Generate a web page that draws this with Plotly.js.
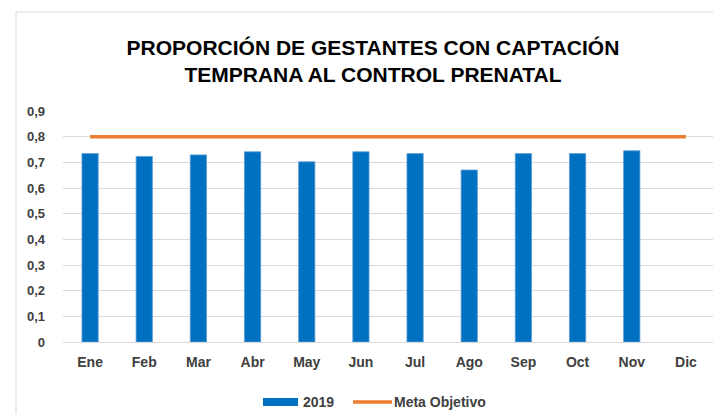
<!DOCTYPE html>
<html>
<head>
<meta charset="utf-8">
<script src="https://cdn.plot.ly/plotly-3.0.1.min.js"></script>
<style>html,body{margin:0;padding:0;background:#fff;}#chart{width:713px;height:414px;}</style>
</head>
<body>
<div id="chart"></div>
<script>
const months = ["Ene","Feb","Mar","Abr","May","Jun","Jul","Ago","Sep","Oct","Nov","Dic"];
const values2019 = [0.734,0.723,0.729,0.741,0.702,0.741,0.734,0.670,0.734,0.734,0.745,null];
const meta = [0.8,0.8,0.8,0.8,0.8,0.8,0.8,0.8,0.8,0.8,0.8,0.8];
const yTicks = [0,0.1,0.2,0.3,0.4,0.5,0.6,0.7,0.8,0.9];
const yTickText = ["0","0,1","0,2","0,3","0,4","0,5","0,6","0,7","0,8","0,9"];
const seriesNames = ["2019","Meta Objetivo"];
const colors = ["#0070C0","#ED7D31"];

const FONT = "'Liberation Sans', Arial, sans-serif";

const traces = [
  {type:"bar", x:months, y:values2019, name:seriesNames[0],
   marker:{color:colors[0], line:{color:"#5B9BD5", width:0.8}}, width:0.3, showlegend:false},
  {type:"scatter", mode:"lines", x:months, y:meta, name:seriesNames[1],
   line:{color:colors[1], width:3.5}, showlegend:false}
];

// paper coordinate helpers (plot area: x 63..713, y 111..342)
const px = v => (v-63)/650;
const py = v => (342-v)/231;

const layout = {
  width:713, height:414,
  margin:{l:63, r:0, t:111, b:72},
  paper_bgcolor:"#fff", plot_bgcolor:"#fff",
  font:{family:FONT, color:"#404040"},
  title:{text:"<b>PROPORCIÓN DE GESTANTES CON CAPTACIÓN<br>TEMPRANA AL CONTROL PRENATAL</b>",
         font:{family:FONT, size:21, color:"#000"}, x:373/713, xref:"container", xanchor:"center",
         y:1-55/414, yref:"container", yanchor:"middle"},
  xaxis:{type:"category", categoryorder:"array", categoryarray:months, showgrid:false, zeroline:false,
         showline:false, ticks:"", ticklabelstandoff:10,
         tickfont:{family:FONT, size:14, color:"#404040", weight:"bold"}},
  yaxis:{range:[0,0.9], tickvals:yTicks, ticktext:yTickText, showgrid:true, gridcolor:"#D9D9D9",
         gridwidth:1, zeroline:true, zerolinecolor:"#D9D9D9", zerolinewidth:1, showline:false, ticks:"",
         ticklabelstandoff:17, tickfont:{family:FONT, size:13, color:"#404040", weight:"bold"}},
  showlegend:false,
  bargap:0.7,
  shapes:[
    {type:"line", xref:"paper", yref:"paper", x0:px(16), x1:1.1, y0:py(12), y1:py(12),
     line:{color:"#D9D9D9", width:1}},
    {type:"line", xref:"paper", yref:"paper", x0:px(16), x1:px(16), y0:py(12), y1:py(430),
     line:{color:"#D9D9D9", width:1}},
    // legend swatches
    {type:"rect", xref:"paper", yref:"paper", x0:px(263), x1:px(298), y0:py(398), y1:py(406),
     fillcolor:colors[0], line:{width:0}},
    {type:"line", xref:"paper", yref:"paper", x0:px(353), x1:px(392), y0:py(402), y1:py(402),
     line:{color:colors[1], width:3.5}}
  ],
  annotations:[
    {xref:"paper", yref:"paper", x:px(301), y:py(402), xanchor:"left", yanchor:"middle", showarrow:false,
     text:seriesNames[0], font:{family:FONT, size:14, color:"#404040", weight:"bold"}},
    {xref:"paper", yref:"paper", x:px(392), y:py(402), xanchor:"left", yanchor:"middle", showarrow:false,
     text:seriesNames[1], font:{family:FONT, size:14, color:"#404040", weight:"bold"}}
  ]
};
Plotly.newPlot("chart", traces, layout, {displayModeBar:false, staticPlot:true});
</script>
</body>
</html>
